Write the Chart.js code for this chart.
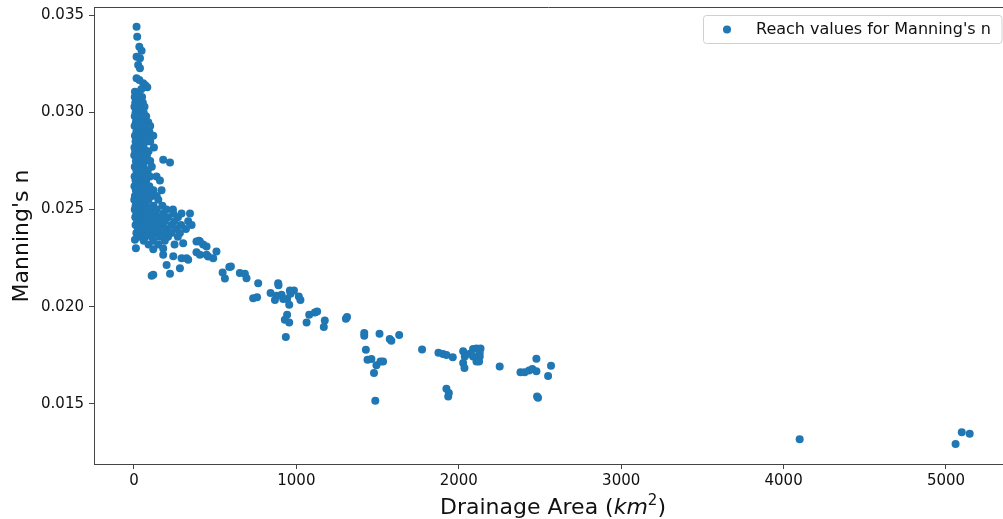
<!DOCTYPE html>
<html>
<head>
<meta charset="utf-8">
<title>Manning's n vs drainage area</title>
<script src="https://cdn.jsdelivr.net/npm/chart.js"></script>
<style>
  html, body { margin: 0; padding: 0; background: #fff; }
  #wrap { width: 1003px; height: 519px; }
</style>
</head>
<body>
<div id="wrap"><canvas id="chart" width="1003" height="519"></canvas></div>
<script>
// values, one reach per index
const drainageArea = [
  // upper tail near 0 km2
  16, 20, 33, 47, 16, 37, 26, 37, 16, 33, 57, 82, 6, 26, 70, 45,
  // dense column
  5, 25, 50,
  8, 30, 55,
  3, 20, 45, 65,
  10, 35, 60,
  5, 25, 50, 75,
  12, 38, 62, 88,
  4, 28, 55, 80, 100,
  15, 40, 70, 95,
  6, 30, 58, 85, 119,
  10, 45, 75, 100,
  3, 28, 60, 123,
  8, 35, 65, 90,
  2, 22, 50, 80,
  12, 40, 70, 100, 180, 222,
  5, 30, 60, 110,
  15, 45, 85,
  4, 25, 55, 98, 139,
  10, 40, 75, 160,
  3, 30, 60, 95,
  12, 45, 80, 120, 170,
  6, 35, 65, 110, 140,
  2, 20, 50, 90, 150,
  10, 40, 75, 120, 175,
  5, 30, 60, 100, 140, 200, 240,
  15, 50, 85, 130, 180, 242, 293, 345,
  8, 40, 70, 110, 160, 210, 271,
  20, 55, 95, 140, 190, 250, 334,
  10, 45, 80, 125, 170, 230, 290, 355,
  25, 60, 100, 150, 200, 260, 320,
  15, 50, 90, 130, 180, 230, 283,
  35, 70, 110, 160, 210, 270,
  6, 60, 120, 190, 303, 385, 400,
  90, 150, 250, 426, 406,
  12, 119, 180, 447,
  508, 385,
  180, 242, 406, 457, 447,
  293, 334, 488, 324,
  201, 283,
  222, 119, 109,
  // 500 - 1200 km2
  546, 587, 597, 560, 652, 683, 693, 765, 734, 758, 888, 890,
  841, 878, 868, 909, 919, 943, 956, 960, 985, 964, 1015, 1025,
  943, 929, 956, 935, 1063, 1079, 1114, 1128, 1175, 1169,
  // 1300 - 2600 km2
  1305, 1312, 1418, 1418, 1512, 1585, 1575, 1633, 1428, 1438, 1462, 1493,
  1518, 1534, 1478, 1486, 1774, 1875, 1903, 1924, 1963, 1924, 1939, 1935,
  2027, 2037, 2027, 2035, 2068, 2088, 2109, 2134, 2129, 2129, 2109, 2125,
  2088, 2252, 2380, 2406, 2433, 2453, 2478, 2478, 2550, 2568, 2488, 2482,
  // largest reaches
  4099, 5059, 5097, 5146
];

const manningN = [
  0.03441, 0.03390, 0.03338, 0.03318, 0.03287, 0.03279, 0.03244, 0.03227,
  0.03176, 0.03167, 0.03150, 0.03130, 0.03107, 0.03099, 0.03140, 0.03120,
  0.0308, 0.0308, 0.0308,
  0.0305, 0.0305, 0.0305,
  0.0303, 0.0303, 0.0303, 0.0303,
  0.0300, 0.0300, 0.0300,
  0.0298, 0.0298, 0.0298, 0.0298,
  0.0295, 0.0295, 0.0295, 0.0295,
  0.0293, 0.0293, 0.0293, 0.0293, 0.0293,
  0.0290, 0.0290, 0.0290, 0.0290,
  0.0288, 0.0288, 0.0288, 0.0288, 0.0288,
  0.0285, 0.0285, 0.0285, 0.0285,
  0.0282, 0.0282, 0.0282, 0.0282,
  0.0280, 0.0280, 0.0280, 0.0280,
  0.0278, 0.0278, 0.0278, 0.0278,
  0.0275, 0.0275, 0.0275, 0.0275, 0.02756, 0.02742,
  0.0272, 0.0272, 0.0272, 0.0272,
  0.0270, 0.0270, 0.0270,
  0.0267, 0.0267, 0.0267, 0.0267, 0.0267,
  0.0265, 0.0265, 0.0265, 0.0265,
  0.0262, 0.0262, 0.0262, 0.0262,
  0.0260, 0.0260, 0.0260, 0.0260, 0.0260,
  0.0257, 0.0257, 0.0257, 0.0257, 0.0257,
  0.0255, 0.0255, 0.0255, 0.0255, 0.0255,
  0.0252, 0.0252, 0.0252, 0.0252, 0.0252,
  0.0250, 0.0250, 0.0250, 0.0250, 0.0250, 0.0250, 0.0250,
  0.0248, 0.0248, 0.0248, 0.0248, 0.0248, 0.0248, 0.0248, 0.0248,
  0.0246, 0.0246, 0.0246, 0.0246, 0.0246, 0.0246, 0.0246,
  0.0244, 0.0244, 0.0244, 0.0244, 0.0244, 0.0244, 0.0244,
  0.0242, 0.0242, 0.0242, 0.0242, 0.0242, 0.0242, 0.0242, 0.0242,
  0.0240, 0.0240, 0.0240, 0.0240, 0.0240, 0.0240, 0.0240,
  0.0238, 0.0238, 0.0238, 0.0238, 0.0238, 0.0238, 0.0238,
  0.0236, 0.0236, 0.0236, 0.0236, 0.0236, 0.0236,
  0.02345, 0.0234, 0.0234, 0.0234, 0.02327, 0.02335, 0.0234,
  0.0232, 0.0232, 0.0232, 0.0232, 0.02335,
  0.02301, 0.02296, 0.0230, 0.0231,
  0.02284, 0.0228,
  0.02267, 0.0226, 0.02267, 0.02258, 0.02267,
  0.0225, 0.02241, 0.0225, 0.0225,
  0.02215, 0.02198,
  0.02169, 0.02164, 0.02159,
  0.02176, 0.02204, 0.02207, 0.02145, 0.02173, 0.02169, 0.02147, 0.02121,
  0.02044, 0.02049, 0.02121, 0.02110,
  0.02070, 0.02056, 0.02035, 0.02061, 0.02039, 0.02039, 0.02010, 0.02083,
  0.02083, 0.02066, 0.02052, 0.02035,
  0.01958, 0.01933, 0.01919, 0.01844, 0.01919, 0.01958, 0.01970, 0.01975,
  0.01929, 0.01895,
  0.01938, 0.01947, 0.01850, 0.01864, 0.01861, 0.01825, 0.01833, 0.01854,
  0.01778, 0.01727, 0.01730, 0.01698,
  0.01718, 0.01718, 0.01658, 0.01516, 0.01780, 0.01763, 0.01756, 0.01751,
  0.01739, 0.01578, 0.01556, 0.01538,
  0.01770, 0.01744, 0.01710, 0.01684, 0.01758, 0.01782, 0.01785, 0.01785,
  0.01761, 0.01744, 0.01718, 0.01718,
  0.01744, 0.01692, 0.01663, 0.01662, 0.01672, 0.01679, 0.01667, 0.01732,
  0.01643, 0.01696, 0.01531, 0.01538,
  0.01317, 0.01293, 0.01353, 0.01346
];

const xTicks = [0, 1000, 2000, 3000, 4000, 5000];
const yTicks = [0.015, 0.020, 0.025, 0.030, 0.035];
const seriesLabel = "Reach values for Manning's n";

const blue = '#1f77b4';
const spine = '#444';
const font = "'DejaVu Sans', sans-serif";

const points = drainageArea.map((a, i) => ({ x: a, y: manningN[i] }));

// frame top line, axis titles and the legend box
const extras = {
  id: 'extras',
  afterDraw(chart) {
    const { ctx, chartArea } = chart;
    ctx.save();
    ctx.strokeStyle = spine;
    ctx.lineWidth = 1;
    ctx.beginPath();
    ctx.moveTo(chartArea.left, chartArea.top + 0.5);
    ctx.lineTo(chartArea.right, chartArea.top + 0.5);
    ctx.stroke();

    // x title with italic km and superscript 2
    ctx.fillStyle = '#111';
    ctx.textBaseline = 'alphabetic';
    const parts = [
      { t: 'Drainage Area (', f: '22px ' + font, dy: 0 },
      { t: 'km', f: 'italic 22px ' + font, dy: 0 },
      { t: '2', f: '15px ' + font, dy: -9 },
      { t: ')', f: '22px ' + font, dy: 0 }
    ];
    let total = 0;
    parts.forEach(p => { ctx.font = p.f; p.w = ctx.measureText(p.t).width; total += p.w; });
    let x = 553 - total / 2;
    parts.forEach(p => {
      ctx.font = p.f;
      ctx.textAlign = 'left';
      ctx.fillText(p.t, x, 514 + p.dy);
      x += p.w;
    });

    // y title
    ctx.save();
    ctx.translate(22, 236);
    ctx.rotate(-Math.PI / 2);
    ctx.font = '22px ' + font;
    ctx.textAlign = 'center';
    ctx.textBaseline = 'middle';
    ctx.fillText("Manning's n", 0, 0);
    ctx.restore();

    // legend
    ctx.fillStyle = 'rgba(255,255,255,0.8)';
    ctx.strokeStyle = '#d0d0d0';
    ctx.beginPath();
    ctx.roundRect(703.5, 15.5, 298.5, 28, 3);
    ctx.fill();
    ctx.stroke();
    ctx.fillStyle = blue;
    ctx.beginPath();
    ctx.arc(727, 29.5, 4, 0, Math.PI * 2);
    ctx.fill();
    ctx.fillStyle = '#111';
    ctx.font = '16px ' + font;
    ctx.textAlign = 'left';
    ctx.textBaseline = 'middle';
    ctx.fillText(seriesLabel, 756, 30);
    ctx.restore();
  }
};

new Chart(document.getElementById('chart'), {
  type: 'scatter',
  data: {
    datasets: [{
      label: seriesLabel,
      data: points,
      backgroundColor: blue,
      borderWidth: 0,
      pointRadius: 4,
      pointHoverRadius: 4
    }]
  },
  options: {
    responsive: false,
    animation: false,
    events: [],
    layout: { autoPadding: false, padding: { top: 7, right: 0, left: 0, bottom: 0 } },
    plugins: { legend: { display: false }, tooltip: { enabled: false } },
    scales: {
      x: {
        type: 'linear',
        min: -246,
        max: 5351,
        afterFit: s => { s.height = 55; s.paddingLeft = 0; s.paddingRight = 0; },
        afterBuildTicks: s => { s.ticks = xTicks.map(v => ({ value: v })); },
        grid: { drawOnChartArea: false, drawTicks: true, tickLength: 5, tickColor: spine },
        border: { display: true, color: spine, width: 1 },
        ticks: {
          color: '#111',
          font: { family: font, size: 15 },
          padding: 3,
          maxRotation: 0,
          callback: v => String(v)
        }
      },
      y: {
        type: 'linear',
        min: 0.0119,
        max: 0.03543,
        afterFit: s => { s.width = 94; s.paddingTop = 0; s.paddingBottom = 0; },
        afterBuildTicks: s => { s.ticks = yTicks.map(v => ({ value: v })); },
        grid: { drawOnChartArea: false, drawTicks: true, tickLength: 5, tickColor: spine },
        border: { display: true, color: spine, width: 1 },
        ticks: {
          color: '#111',
          font: { family: font, size: 15 },
          padding: 5,
          callback: v => v.toFixed(3)
        }
      }
    }
  },
  plugins: [extras]
});
</script>
</body>
</html>
